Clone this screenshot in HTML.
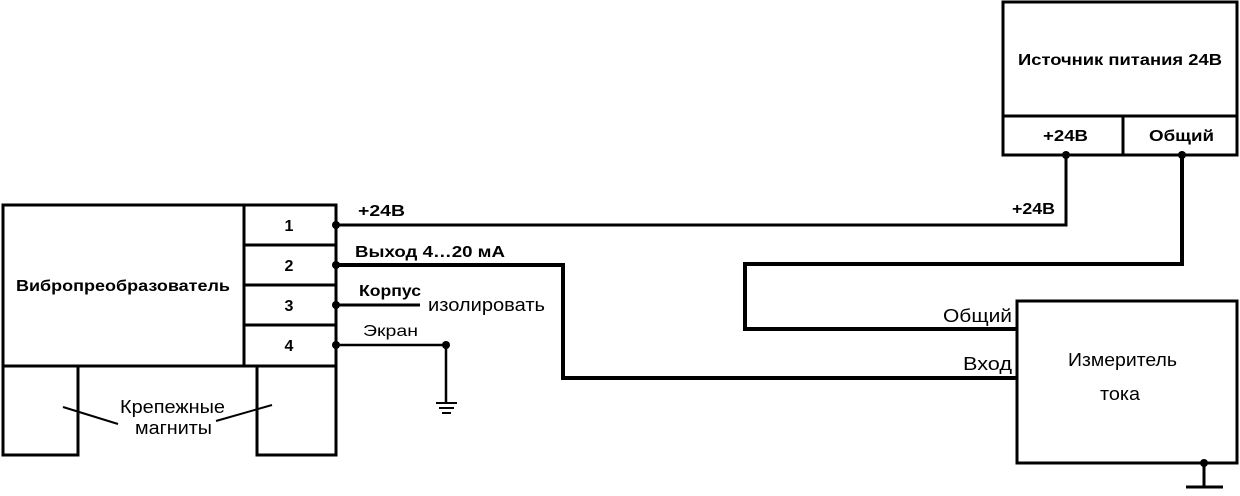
<!DOCTYPE html>
<html><head><meta charset="utf-8"><style>
html,body{margin:0;padding:0;background:#fff;}
svg text{font-family:"Liberation Sans",sans-serif;fill:#000;}
</style></head><body>
<svg width="1240" height="491" viewBox="0 0 1240 491" xmlns="http://www.w3.org/2000/svg">
<g fill="none" stroke="#000" stroke-width="3">
<rect x="3" y="205" width="333" height="161"/>
<line x1="244" y1="205" x2="244" y2="366"/>
<line x1="244" y1="245" x2="336" y2="245"/>
<line x1="244" y1="285" x2="336" y2="285"/>
<line x1="244" y1="325" x2="336" y2="325"/>
<rect x="3" y="366" width="75" height="89"/>
<rect x="257" y="366" width="79" height="89"/>
<rect x="1003" y="2" width="234" height="153"/>
<line x1="1003" y1="116" x2="1237" y2="116"/>
<line x1="1123" y1="116" x2="1123" y2="155"/>
<rect x="1017" y="301" width="220" height="162"/>
<polyline points="336,225 1066,225 1066,155"/>
<polyline points="336,265 563,265 563,378 1017,378" stroke-width="4"/>
<polyline points="1182,155 1182,264 745,264 745,329 1017,329" stroke-width="4"/>
<line x1="336" y1="305" x2="420" y2="305"/>
<polyline points="336,345 446,345 446,402" stroke-width="2.5"/>
<line x1="1204" y1="463" x2="1204" y2="486"/>
<line x1="1186" y1="487" x2="1223" y2="487"/>
</g>
<g stroke="#000" stroke-width="2">
<line x1="436" y1="403" x2="457" y2="403"/>
<line x1="439" y1="408" x2="454" y2="408"/>
<line x1="442" y1="413" x2="451" y2="413"/>
<line x1="63" y1="407" x2="118" y2="424"/>
<line x1="216" y1="421" x2="272" y2="405"/>
</g>
<g fill="#000">
<circle cx="336" cy="225" r="4"/><circle cx="336" cy="265" r="4"/>
<circle cx="336" cy="305" r="4"/><circle cx="336" cy="345" r="4"/>
<circle cx="446" cy="345" r="4"/><circle cx="1066" cy="155" r="4"/>
<circle cx="1182" cy="155" r="4"/><circle cx="1204" cy="463" r="4"/>
</g>
<g font-size="16" font-weight="bold">
<text x="289" y="231" text-anchor="middle">1</text>
<text x="289" y="271" text-anchor="middle">2</text>
<text x="289" y="311" text-anchor="middle">3</text>
<text x="289" y="351" text-anchor="middle">4</text>
<text x="16" y="291" textLength="214" lengthAdjust="spacingAndGlyphs">Вибропреобразователь</text>
<text x="358" y="216" textLength="47" lengthAdjust="spacingAndGlyphs">+24В</text>
<text x="355" y="257" textLength="150" lengthAdjust="spacingAndGlyphs">Выход 4…20 мА</text>
<text x="359" y="296" textLength="62" lengthAdjust="spacingAndGlyphs">Корпус</text>
<text x="363" y="336" textLength="55" lengthAdjust="spacingAndGlyphs" font-weight="normal">Экран</text>
<text x="1012" y="214" textLength="43" lengthAdjust="spacingAndGlyphs">+24В</text>
<text x="1043" y="141" textLength="45" lengthAdjust="spacingAndGlyphs">+24В</text>
<text x="1149" y="141" textLength="65" lengthAdjust="spacingAndGlyphs">Общий</text>
<text x="1018" y="65" textLength="204" lengthAdjust="spacingAndGlyphs">Источник питания 24В</text>
</g>
<g font-size="18">
<text x="428" y="311" textLength="117" lengthAdjust="spacingAndGlyphs">изолировать</text>
<text x="120" y="413" textLength="105" lengthAdjust="spacingAndGlyphs">Крепежные</text>
<text x="135" y="434" textLength="77" lengthAdjust="spacingAndGlyphs">магниты</text>
<text x="943" y="322" textLength="69" lengthAdjust="spacingAndGlyphs">Общий</text>
<text x="963" y="370" textLength="49" lengthAdjust="spacingAndGlyphs">Вход</text>
<text x="1068" y="366" textLength="109" lengthAdjust="spacingAndGlyphs">Измеритель</text>
<text x="1100" y="400" textLength="40" lengthAdjust="spacingAndGlyphs">тока</text>
</g>
</svg>
</body></html>
